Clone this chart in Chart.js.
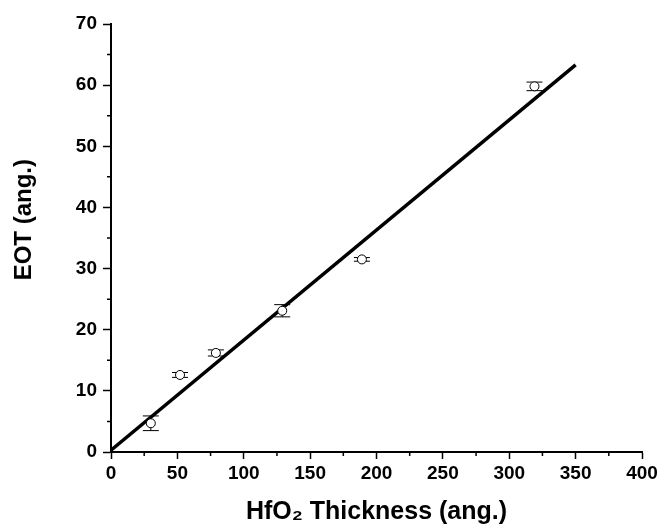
<!DOCTYPE html>
<html>
<head>
<meta charset="utf-8">
<script src="https://cdn.jsdelivr.net/npm/chart.js@4/dist/chart.umd.min.js"></script>
<style>
  html, body { margin: 0; padding: 0; background: #fff; }
  #wrap { width: 662px; height: 531px; }
</style>
</head>
<body>
<div id="wrap"><canvas id="eotChart"></canvas></div>
<script>
const thickness = [30, 52, 79, 129, 189, 319];
const eot = [4.7, 12.6, 16.2, 23.1, 31.5, 59.8];
const eotErr = [1.2, 0.4, 0.5, 1.0, 0.3, 0.7];

// linear fit line end points
const fitX = [0, 350];
const fitY = [0.3, 63.3];

const xTicks = [0, 50, 100, 150, 200, 250, 300, 350, 400];
const yTicks = [0, 10, 20, 30, 40, 50, 60, 70];
const xMinor = [25, 75, 125, 175, 225, 275, 325, 375];
const yMinor = [5, 15, 25, 35, 45, 55, 65];

const xTitle = 'HfO₂ Thickness (ang.)';
const yTitle = 'EOT (ang.)';

const tickFont = { family: 'Liberation Sans', size: 19, weight: 'bold' };
const titleFont = { family: 'Liberation Sans', size: 24, weight: 'bold' };

// error bars, minor ticks and the y title (sits a bit above the axis middle)
const extras = {
  id: 'extras',
  beforeDatasetsDraw(chart) {
    const { ctx, scales: { x, y } } = chart;
    ctx.save();
    ctx.strokeStyle = '#000';
    ctx.lineWidth = 1;
    thickness.forEach((t, i) => {
      const px = x.getPixelForValue(t);
      const top = y.getPixelForValue(eot[i] + eotErr[i]);
      const bot = y.getPixelForValue(eot[i] - eotErr[i]);
      ctx.beginPath();
      ctx.moveTo(px, top); ctx.lineTo(px, bot);
      ctx.moveTo(px - 8, top); ctx.lineTo(px + 8, top);
      ctx.moveTo(px - 8, bot); ctx.lineTo(px + 8, bot);
      ctx.stroke();
    });
    ctx.restore();
  },
  afterDraw(chart) {
    const { ctx, scales: { x, y }, chartArea } = chart;
    ctx.save();
    ctx.strokeStyle = '#000';
    ctx.lineWidth = 1.5;
    ctx.beginPath();
    xMinor.forEach(v => {
      const px = x.getPixelForValue(v);
      ctx.moveTo(px, chartArea.bottom); ctx.lineTo(px, chartArea.bottom + 4);
    });
    yMinor.forEach(v => {
      const py = y.getPixelForValue(v);
      ctx.moveTo(chartArea.left, py); ctx.lineTo(chartArea.left - 4, py);
    });
    ctx.stroke();

    ctx.translate(24, y.getPixelForValue(38));
    ctx.rotate(-Math.PI / 2);
    ctx.fillStyle = '#000';
    ctx.font = 'bold 24px "Liberation Sans"';
    ctx.textAlign = 'center';
    ctx.textBaseline = 'middle';
    ctx.fillText(yTitle, 0, 0);
    ctx.restore();
  }
};

new Chart(document.getElementById('eotChart'), {
  type: 'scatter',
  data: {
    datasets: [
      {
        label: 'EOT',
        data: thickness.map((t, i) => ({ x: t, y: eot[i] })),
        pointStyle: 'circle',
        pointRadius: 4.5,
        pointBorderWidth: 1,
        borderColor: '#000',
        backgroundColor: '#fff',
        showLine: false
      },
      {
        label: 'fit',
        data: fitX.map((v, i) => ({ x: v, y: fitY[i] })),
        showLine: true,
        pointRadius: 0,
        borderColor: '#000',
        borderWidth: 3.5
      }
    ]
  },
  options: {
    responsive: true,
    maintainAspectRatio: false,
    animation: false,
    layout: { padding: { top: 24, right: 20, left: 0, bottom: 0 } },
    plugins: { legend: { display: false }, tooltip: { enabled: false } },
    scales: {
      x: {
        type: 'linear',
        min: 0, max: 400,
        afterBuildTicks: s => { s.ticks = xTicks.map(v => ({ value: v })); },
        afterFit: s => { s.height = 79; },
        border: { color: '#000', width: 2 },
        grid: { drawOnChartArea: false, drawTicks: true, tickLength: 7, tickWidth: 1.5, tickColor: '#000' },
        ticks: { color: '#000', font: tickFont, padding: 3, maxRotation: 0 },
        title: { display: true, text: xTitle, color: '#000', font: { ...titleFont, size: 25 }, padding: { top: 0, bottom: 4 } }
      },
      y: {
        type: 'linear',
        min: 0, max: 70,
        afterBuildTicks: s => { s.ticks = yTicks.map(v => ({ value: v })); },
        afterFit: s => { s.width = 111; },
        border: { color: '#000', width: 2 },
        grid: { drawOnChartArea: false, drawTicks: true, tickLength: 8, tickWidth: 1.5, tickColor: '#000' },
        ticks: { color: '#000', font: tickFont, padding: 6 }
      }
    }
  },
  plugins: [extras]
});
</script>
</body>
</html>
